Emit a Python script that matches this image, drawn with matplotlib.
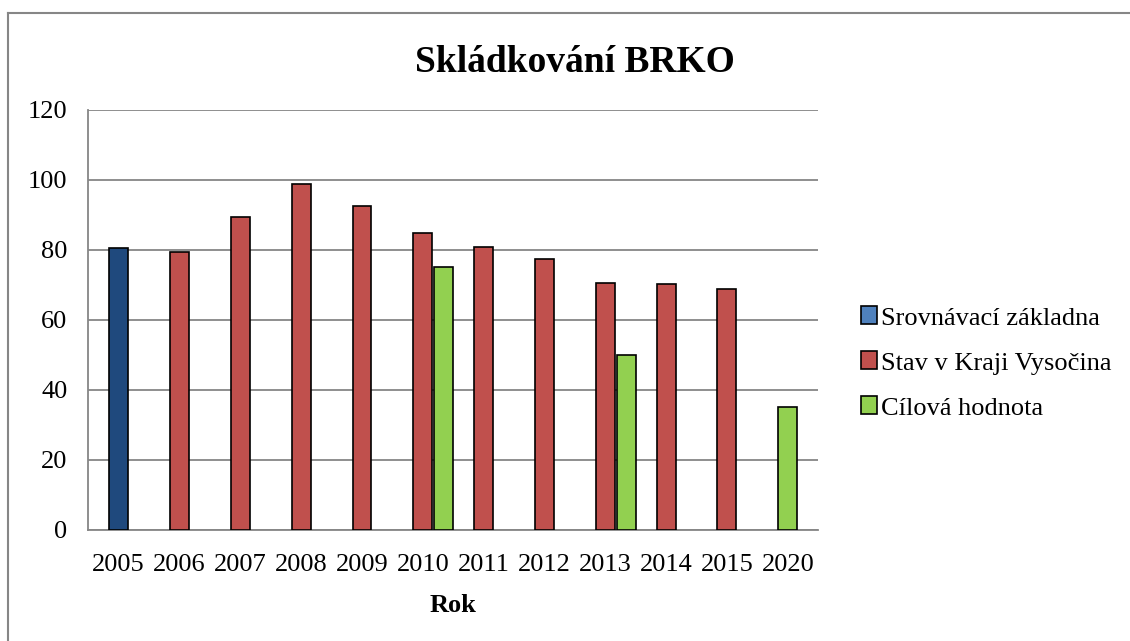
import numpy as np
import matplotlib
matplotlib.use('Agg')
import matplotlib.pyplot as plt
from matplotlib.patches import Patch
from matplotlib.lines import Line2D

#%% data
years = ['2005', '2006', '2007', '2008', '2009', '2010',
         '2011', '2012', '2013', '2014', '2015', '2020']
zakladna = [80.5, np.nan, np.nan, np.nan, np.nan, np.nan,
            np.nan, np.nan, np.nan, np.nan, np.nan, np.nan]
stav = [np.nan, 79.3, 89.4, 98.9, 92.6, 84.9,
        80.8, 77.4, 70.6, 70.2, 68.9, np.nan]
cil = [np.nan, np.nan, np.nan, np.nan, np.nan, 75.0,
       np.nan, np.nan, 50.0, np.nan, np.nan, 35.0]
labels = ['Srovnávací základna', 'Stav v Kraji Vysočina', 'Cílová hodnota']

#%% style
matplotlib.rc('font', family=['Liberation Serif', 'DejaVu Serif'], size=19)
c_blue = '#1F497D'
c_blue_leg = '#4F81BD'
c_red = '#C0504D'
c_green = '#92D050'
c_grid = '#868686'
w = 0.312
gap = 0.345

fig = plt.figure(figsize=(11.3, 6.41), dpi=100)
ax = fig.add_axes([0.0781, 0.1732, 0.6460, 0.6552])

x = np.arange(len(years))
# green bar sits beside the red one when both exist, otherwise centred
cil_x = [xi + gap if not np.isnan(s) else xi for xi, s in zip(x, stav)]

ax.bar(x, zakladna, width=w, color=c_blue, edgecolor='black', linewidth=1.2, zorder=3)
ax.bar(x, stav, width=w, color=c_red, edgecolor='black', linewidth=1.2, zorder=3)
ax.bar(cil_x, cil, width=w, color=c_green, edgecolor='black', linewidth=1.2, zorder=3)

ax.set_xlim(-0.5, len(years) - 0.5)
ax.set_ylim(0, 120)
ax.set_yticks(np.arange(0, 121, 20))
ax.set_xticks(x)
ax.set_xticklabels(years)
ax.tick_params(axis='both', length=0)
ax.tick_params(axis='x', pad=17)
ax.tick_params(axis='y', pad=15)
ax.yaxis.grid(True, color=c_grid, linewidth=1.3, zorder=0)
ax.set_axisbelow(True)
for s in ['top', 'right']:
    ax.spines[s].set_visible(False)
for s in ['left', 'bottom']:
    ax.spines[s].set_color(c_grid)
    ax.spines[s].set_linewidth(1.3)

ax.set_xlabel('Rok', fontweight='bold', fontsize=19, labelpad=13)
fig.text(0.509, 0.903, 'Skládkování BRKO', ha='center', va='center',
         fontweight='bold', fontsize=27)

handles = [Patch(facecolor=c, edgecolor='black', linewidth=1.2)
           for c in [c_blue_leg, c_red, c_green]]
fig.legend(handles, labels, loc='center left', bbox_to_anchor=(0.7405, 0.4337),
           frameon=False, handlelength=0.62, handleheight=0.65, handletextpad=0.15,
           labelspacing=0.83, fontsize=19)

# outer chart frame (left and top edges visible)
fig.add_artist(Line2D([0.0071, 0.0071], [0, 0.9797], color=c_grid, linewidth=1.5))
fig.add_artist(Line2D([0.0071, 1], [0.9797, 0.9797], color=c_grid, linewidth=1.5))

fig.savefig('out.png', dpi=100)
